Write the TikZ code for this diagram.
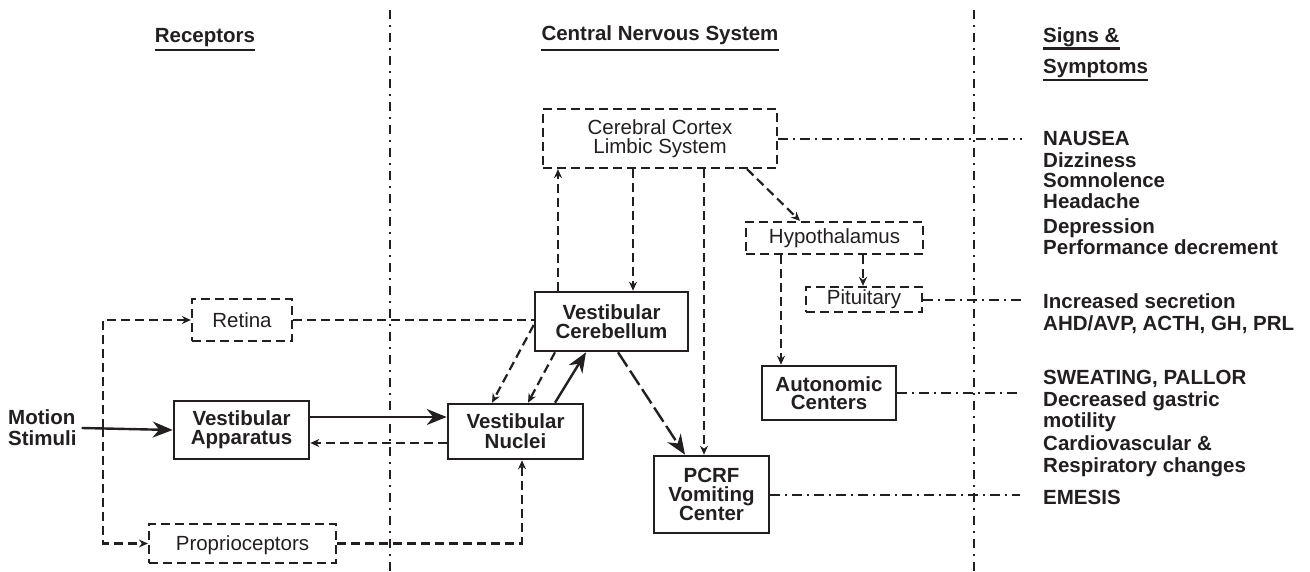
\documentclass[tikz,border=0pt]{standalone}
\usepackage{fontspec}
\setmainfont{Liberation Sans}
\usetikzlibrary{arrows.meta,calc}
\definecolor{ink}{HTML}{231F20}
\begin{document}
\begin{tikzpicture}[x=1pt,y=-1pt,
  every node/.style={inner sep=0pt, text=ink, font=\fontsize{20.5}{19}\selectfont},
  bf/.style={font=\bfseries\fontsize{20.5}{19}\selectfont},
  sbox/.style={draw=ink, line width=2.6pt, align=center, bf},
  dbox/.style={draw=ink, line width=2.2pt, dash pattern=on 9pt off 5pt, align=center},
  dline/.style={draw=ink, line width=2.2pt, dash pattern=on 9pt off 5pt},
  darrow/.style={dline, -{Stealth[length=9pt,width=8pt]}},
  sarrow/.style={draw=ink, line width=2.4pt, -{Stealth[length=20pt,width=16pt]}},
  ldarrow/.style={draw=ink, line width=2.4pt, dash pattern=on 17pt off 5pt, -{Stealth[length=20pt,width=16pt]}},
  ddline/.style={draw=ink, line width=2pt, dash pattern=on 10pt off 5pt on 2pt off 5pt},
  divider/.style={draw=ink, line width=2pt, dash pattern=on 9pt off 6pt on 2pt off 6pt},
  uline/.style={draw=ink, line width=2.6pt},
  sym/.style={bf, anchor=base west}
]
\useasboundingbox (0,0) rectangle (1310,571);

% dividers
\coordinate (d1t) at (390,10);
\coordinate (d1b) at (390,571);
\coordinate (d2t) at (974,10);
\coordinate (d2b) at (974,571);
\draw[divider] (d1t) -- (d1b);
\draw[divider] (d2t) -- (d2b);

% headers
\node[bf, anchor=base] (hrec) at (205,42) {Receptors};
\draw[uline] ([yshift=-8pt]hrec.base west) -- ([yshift=-8pt]hrec.base east);
\node[bf, anchor=base] (hcns) at (660,40) {Central Nervous System};
\draw[uline] ([yshift=-10pt]hcns.base west) -- ([yshift=-10pt]hcns.base east);
\node[bf, anchor=base west] (hsig) at (1043,42) {Signs \&};
\draw[uline] ([yshift=-6.5pt]hsig.base west) -- ([yshift=-6.5pt]hsig.base east);
\node[bf, anchor=base west] (hsym) at (1043,73) {Symptoms};
\draw[uline] ([yshift=-7pt]hsym.base west) -- ([yshift=-7pt]hsym.base east);

% nodes
\node[bf, align=left, anchor=west, font=\bfseries\fontsize{20.5}{21}\selectfont] (motion) at (8,428) {Motion\\Stimuli};
\node[dbox, minimum width=100pt, minimum height=42pt] (retina) at (242,320) {Retina};
\node[sbox, minimum width=135pt, minimum height=58pt] (app) at (241.5,430) {Vestibular\\Apparatus};
\node[dbox, minimum width=187pt, minimum height=39pt, text depth=0pt] (prop) at (242.5,543.5) {Proprioceptors};
\node[sbox, minimum width=135pt, minimum height=55pt, font=\bfseries\fontsize{20.5}{20}\selectfont] (nuc) at (515.5,431.5) {Vestibular\\Nuclei};
\node[sbox, minimum width=153pt, minimum height=59pt, font=\bfseries\fontsize{20.5}{18.5}\selectfont] (cer) at (611.5,321.5) {Vestibular\\Cerebellum};
\node[dbox, minimum width=234pt, minimum height=59pt] (cortex) at (660,138.5) {Cerebral Cortex\\Limbic System};
\node[dbox, minimum width=177pt, minimum height=32pt] (hypo) at (834.5,238) {Hypothalamus};
\node[dbox, minimum width=116pt, minimum height=25pt] (pit) at (864,299.5) {Pituitary};
\node[sbox, minimum width=134pt, minimum height=54pt, font=\bfseries\fontsize{20.5}{18}\selectfont] (auto) at (829,393) {Autonomic\\Centers};
\node[sbox, minimum width=115pt, minimum height=77pt, font=\bfseries\fontsize{20.5}{19.2}\selectfont] (pcrf) at (711.5,494.5) {PCRF\\Vomiting\\Center};

% right column
\node[sym] (s1) at (1043,145) {NAUSEA};
\node[sym] (s2) at (1043,167) {Dizziness};
\node[sym] (s3) at (1043,187) {Somnolence};
\node[sym] (s4) at (1043,208) {Headache};
\node[sym] (s5) at (1043,233) {Depression};
\node[sym] (s6) at (1043,254) {Performance decrement};
\node[sym] (s7) at (1043,308) {Increased secretion};
\node[sym] (s8) at (1043,330) {AHD/AVP, ACTH, GH, PRL};
\node[sym] (s9) at (1043,384) {SWEATING, PALLOR};
\node[sym] (s10) at (1043,406) {Decreased gastric};
\node[sym] (s11) at (1043,427) {motility};
\node[sym] (s12) at (1043,450) {Cardiovascular \&};
\node[sym] (s13) at (1043,472) {Respiratory changes};
\node[sym] (s14) at (1043,504) {EMESIS};

% connectors
\draw[sarrow] ([xshift=5pt]motion.east) -- (app.west);
\coordinate (fork) at (103,428);
\draw[darrow] (fork) |- (retina.west);
\draw[darrow] (fork) |- (prop.west);
\draw[dline] (retina.east) -- (retina.east -| cer.west);

\coordinate (a1) at ($(app.east)+(0,-13)$);
\draw[sarrow] (a1) -- (a1 -| nuc.west);
\coordinate (n1) at ($(nuc.west)+(0,11.5)$);
\draw[darrow] (n1) -- (n1 -| app.east);
\coordinate (n2) at ($(nuc.south)+(6.5,0)$);
\draw[darrow] (prop.east) -| (n2);

\draw[darrow] ($(cer.west)+(0,3.5)$) -- ($(nuc.north)+(-23.5,0)$);
\draw[darrow] ($(cer.south)+(-56.5,0)$) -- ($(nuc.north)+(12.5,0)$);
\draw[sarrow] ($(nuc.north)+(39.5,0)$) -- ($(cer.south)+(-25.5,0)$);
\draw[ldarrow] ($(cer.south)+(6.5,0)$) -- ($(pcrf.north)+(-26.5,0)$);

\coordinate (c1) at ($(cer.north)+(-53.5,0)$);
\draw[darrow] (c1) -- (c1 |- cortex.south);
\coordinate (c2) at ($(cortex.south)+(-27,0)$);
\draw[darrow] (c2) -- (c2 |- cer.north);
\coordinate (c3) at ($(cortex.south)+(44,0)$);
\draw[darrow] (c3) -- (c3 |- pcrf.north);
\draw[darrow] ($(cortex.south)+(87,0)$) -- ($(hypo.north)+(-34.5,0)$);
\coordinate (h1) at ($(hypo.south)+(28.5,0)$);
\draw[darrow] (h1) -- (h1 |- pit.north);
\coordinate (h2) at ($(hypo.south)+(-53.5,0)$);
\draw[darrow] (h2) -- (h2 |- auto.north);

% dash-dot links to signs
\coordinate (rt) at (1022,0);
\coordinate (rt2) at (1020,0);
\draw[ddline] (cortex.east) -- (cortex.east -| rt);
\draw[ddline] (pit.east) -- (pit.east -| rt);
\draw[ddline] (auto.east) -- (auto.east -| rt);
\draw[ddline] (pcrf.east) -- (pcrf.east -| rt2);
\end{tikzpicture}
\end{document}
